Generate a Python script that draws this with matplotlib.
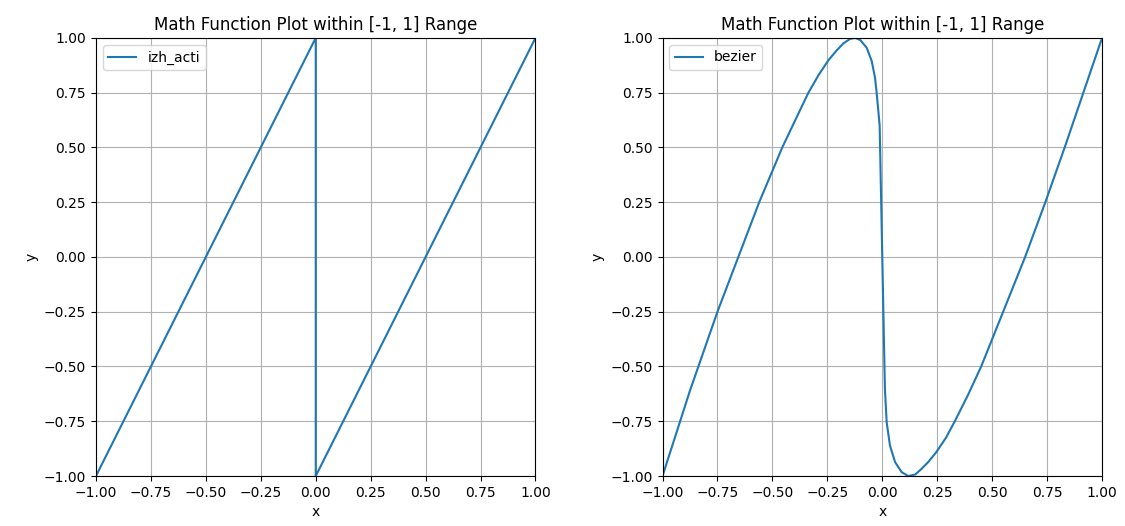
import matplotlib
matplotlib.use("Agg")
import matplotlib.pyplot as plt

# izh_acti: sawtooth with jump at x=0
izh_x = [-1.0, 0.0, 0.0, 1.0]
izh_y = [-1.0, 1.0, -1.0, 1.0]

# bezier: values
bez_x = [-1.0, -0.875, -0.75, -0.655, -0.56, -0.455, -0.39, -0.336, -0.29, -0.245,
         -0.21, -0.177, -0.147, -0.124, -0.1, -0.071, -0.048, -0.033, -0.026,
         -0.018, -0.012,
         0.012, 0.02, 0.035, 0.058, 0.088, 0.118, 0.15, 0.179, 0.21, 0.245,
         0.29, 0.33, 0.39, 0.45, 0.55, 0.65, 0.742, 0.83, 0.915, 1.0]
bez_y = [-1.0, -0.61, -0.25, 0.0, 0.25, 0.5, 0.637, 0.75, 0.83, 0.898,
         0.94, 0.975, 0.995, 1.0, 0.99, 0.955, 0.894, 0.818, 0.753,
         0.666, 0.6,
         -0.603, -0.755, -0.861, -0.936, -0.982, -1.0, -0.993, -0.967, -0.935, -0.892,
         -0.825, -0.75, -0.63, -0.5, -0.25, 0.0, 0.25, 0.5, 0.75, 1.0]

fig, axes = plt.subplots(1, 2, figsize=(11.25, 5.26), dpi=100)
plt.subplots_adjust(left=0.0853, right=0.9796, bottom=0.095, top=0.928, wspace=0.289)

for ax, xs, ys, name in [(axes[0], izh_x, izh_y, 'izh_acti'),
                         (axes[1], bez_x, bez_y, 'bezier')]:
    ax.plot(xs, ys, label=name)
    ax.set_xlim(-1, 1)
    ax.set_ylim(-1, 1)
    ax.set_title('Math Function Plot within [-1, 1] Range')
    ax.set_xlabel('x')
    ax.set_ylabel('y')
    ax.grid(True)
    ax.legend(loc='upper left')

plt.savefig('out.png')
